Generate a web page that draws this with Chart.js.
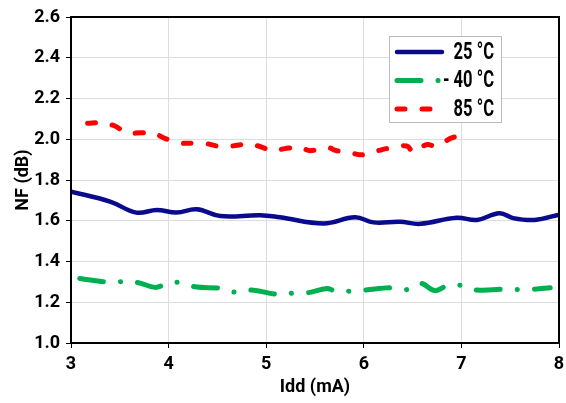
<!DOCTYPE html>
<html lang="en">
<head>
<meta charset="UTF-8">
<title>NF vs Idd</title>
<script src="https://cdn.jsdelivr.net/npm/chart.js"></script>
<style>
  html, body { margin: 0; padding: 0; background: #fff; }
  #wrap { width: 566px; height: 403px; }
</style>
</head>
<body>
<div id="wrap"><canvas id="nfChart" width="566" height="403"></canvas></div>
<script>
// values
const idd25 = [3.00, 3.40, 3.67, 3.88, 4.08, 4.29, 4.53, 4.94, 5.14, 5.59, 5.91, 6.10, 6.37, 6.58, 6.95, 7.16, 7.39, 7.53, 7.75, 8.00];
const nf25  = [1.743, 1.694, 1.640, 1.653, 1.640, 1.656, 1.623, 1.627, 1.617, 1.587, 1.617, 1.592, 1.595, 1.585, 1.615, 1.604, 1.637, 1.613, 1.604, 1.630];

const iddM40 = [3.09, 3.38, 3.54, 3.69, 3.86, 3.96, 4.12, 4.27, 4.54, 4.69, 4.85, 5.11, 5.28, 5.43, 5.62, 5.70, 5.86, 6.01, 6.29, 6.44, 6.58, 6.73, 6.85, 7.00, 7.16, 7.43, 7.59, 7.74, 7.91];
const nfM40  = [1.317, 1.299, 1.301, 1.296, 1.273, 1.286, 1.298, 1.276, 1.268, 1.249, 1.260, 1.239, 1.245, 1.247, 1.267, 1.257, 1.254, 1.260, 1.271, 1.262, 1.293, 1.257, 1.280, 1.283, 1.260, 1.264, 1.262, 1.264, 1.271];

const idd85 = [3.17, 3.31, 3.45, 3.57, 3.72, 3.83, 3.98, 4.10, 4.25, 4.37, 4.53, 4.65, 4.82, 4.92, 5.07, 5.19, 5.35, 5.45, 5.62, 5.72, 5.88, 6.00, 6.17, 6.27, 6.44, 6.51, 6.64, 6.75, 6.92, 7.02];
const nf85  = [2.078, 2.081, 2.065, 2.032, 2.032, 2.032, 2.001, 1.983, 1.980, 1.980, 1.964, 1.967, 1.977, 1.967, 1.944, 1.954, 1.960, 1.944, 1.960, 1.944, 1.931, 1.924, 1.947, 1.957, 1.967, 1.937, 1.973, 1.967, 2.010, 1.998];

const seriesLabels = ['25 °C', '- 40 °C', '85 °C'];
const xTicks = [3, 4, 5, 6, 7, 8];
const yTicks = [1.0, 1.2, 1.4, 1.6, 1.8, 2.0, 2.2, 2.4, 2.6];

const FONT = "Roboto, 'DejaVu Sans', sans-serif";

function pts(xs, ys) {
  return xs.map((x, i) => ({ x: x, y: ys[i] }));
}

// black box round the plot area
const frame = {
  id: 'frame',
  afterDraw(chart) {
    const a = chart.chartArea, c = chart.ctx;
    c.save();
    c.strokeStyle = '#000';
    c.lineWidth = 2;
    c.strokeRect(a.left, a.top, a.right - a.left, a.bottom - a.top);
    c.restore();
  }
};

// legend box inside the plot, top right
const boxLegend = {
  id: 'boxLegend',
  afterDraw(chart) {
    const a = chart.chartArea, c = chart.ctx;
    const bx = a.left + 318, by = a.top + 19, bw = 112, bh = 86;
    c.save();
    c.fillStyle = '#fff';
    c.fillRect(bx, by, bw, bh);
    c.strokeStyle = '#bbb';
    c.lineWidth = 1;
    c.strokeRect(bx + 0.5, by + 0.5, bw, bh);
    chart.data.datasets.forEach((ds, i) => {
      const y = by + 16 + i * 28.5;
      c.beginPath();
      c.strokeStyle = ds.borderColor;
      c.lineWidth = ds.borderWidth;
      c.lineCap = 'round';
      c.setLineDash(ds.borderDash || []);
      c.moveTo(bx + 8, y);
      c.lineTo(bx + 53, y);
      c.stroke();
      c.setLineDash([]);
      // squeeze the text a bit, the original face is a condensed one
      c.save();
      c.translate(bx + 105, y + 1);
      c.scale(0.72, 1);
      c.fillStyle = '#000';
      c.font = 'bold 23px ' + FONT;
      c.textAlign = 'right';
      c.textBaseline = 'middle';
      c.fillText(ds.label, 0, 0);
      c.restore();
    });
    c.restore();
  }
};

new Chart(document.getElementById('nfChart'), {
  type: 'line',
  data: {
    datasets: [
      {
        label: seriesLabels[0],
        data: pts(idd25, nf25),
        borderColor: '#0a0a8c',
        borderWidth: 4.5,
        tension: 0.4
      },
      {
        label: seriesLabels[1],
        data: pts(iddM40, nfM40),
        borderColor: '#00b050',
        borderWidth: 5,
        borderDash: [24, 17, 0.1, 17],
        borderCapStyle: 'round',
        tension: 0.4
      },
      {
        label: seriesLabels[2],
        data: pts(idd85, nf85),
        borderColor: '#ff0000',
        borderWidth: 5,
        borderDash: [8, 17],
        borderCapStyle: 'round',
        tension: 0.4
      }
    ]
  },
  options: {
    responsive: false,
    animation: false,
    devicePixelRatio: 1,
    elements: { point: { radius: 0 } },
    layout: { padding: { top: 17, right: 7, left: 0, bottom: 0 } },
    plugins: {
      legend: { display: false },
      tooltip: { enabled: false }
    },
    scales: {
      x: {
        type: 'linear',
        min: 3,
        max: 8,
        afterBuildTicks(s) { s.ticks = xTicks.map(v => ({ value: v })); },
        afterFit(s) { s.height = 60; s.paddingRight = 0; s.paddingLeft = 0; },
        grid: { color: '#dddddd', tickColor: '#000', tickLength: 5 },
        border: { color: '#000', width: 2 },
        ticks: {
          color: '#000',
          padding: 6,
          font: { family: FONT, size: 18, weight: 'bold' },
          maxRotation: 0
        },
        title: {
          display: true,
          text: 'Idd (mA)',
          color: '#000',
          padding: { top: 0, bottom: 5 },
          font: { family: FONT, size: 18, weight: 'bold' }
        }
      },
      y: {
        min: 1.0,
        max: 2.6,
        afterBuildTicks(s) { s.ticks = yTicks.map(v => ({ value: v })); },
        afterFit(s) { s.width = 71; },
        grid: { color: '#dddddd', tickColor: '#000', tickLength: 5 },
        border: { color: '#000', width: 2 },
        ticks: {
          color: '#000',
          padding: 6,
          font: { family: FONT, size: 18, weight: 'bold' },
          callback: v => v.toFixed(1)
        },
        title: {
          display: true,
          text: 'NF (dB)',
          color: '#000',
          padding: { top: 13, bottom: 0 },
          font: { family: FONT, size: 18, weight: 'bold' }
        }
      }
    }
  },
  plugins: [frame, boxLegend]
});
</script>
</body>
</html>
